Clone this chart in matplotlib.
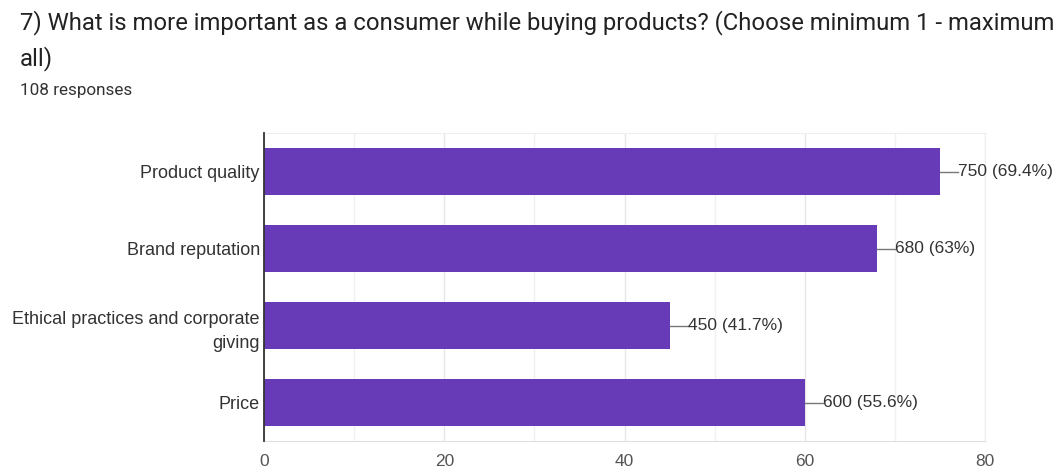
import matplotlib
matplotlib.use("Agg")
import matplotlib.pyplot as plt
from matplotlib.ticker import MultipleLocator

categories = ["Product quality", "Brand reputation",
              "Ethical practices and corporate\ngiving", "Price"]
values = [75, 68, 45, 60]
value_labels = ["750 (69.4%)", "680 (63%)", "450 (41.7%)", "600 (55.6%)"]
xticks = [0, 20, 40, 60, 80]

title_lines = ["7) What is more important as a consumer while buying products? (Choose minimum 1 - maximum",
               "all)"]
subtitle = "108 responses"

plt.rcParams['font.family'] = ['Roboto', 'DejaVu Sans']
label_font = ['Liberation Sans', 'DejaVu Sans']

W, H = 1064, 471
fig = plt.figure(figsize=(W / 100, H / 100), dpi=100)
fig.patch.set_facecolor("white")

left, right, top, bottom = 264, 985, 133, 441
ax = fig.add_axes([left / W, 1 - bottom / H, (right - left) / W, (bottom - top) / H])

bar_color = "#673AB7"
ypos = list(range(len(categories)))
ax.barh(ypos, values, height=0.61, color=bar_color, zorder=3)
ax.set_ylim(len(categories) - 0.5, -0.5)
ax.set_xlim(0, 80)
ax.set_xticks(xticks)
ax.xaxis.set_minor_locator(MultipleLocator(10))
ax.grid(axis="x", which="major", color="#e6e6e6", linewidth=1, zorder=0)
ax.grid(axis="x", which="minor", color="#f0f0f0", linewidth=1, zorder=0)
ax.set_yticks(ypos)
ax.set_yticklabels(categories, fontsize=13, color="#333333", linespacing=1.6,
                   family=label_font)
ax.tick_params(axis="y", length=0, pad=3)
ax.tick_params(axis="x", which="both", length=0, pad=9, labelsize=12.5, labelcolor="#555555")
for t in ax.get_xticklabels():
    t.set_family(label_font)

for s in ["top", "right"]:
    ax.spines[s].set_color("#eeeeee")
ax.spines["bottom"].set_color("#e0e0e0")
ax.spines["left"].set_color("#333333")
ax.spines["left"].set_linewidth(1.3)
ax.spines["left"].set_zorder(4)

for y, v, lab in zip(ypos, values, value_labels):
    ax.plot([v, v + 2.0], [y, y], color="#777777", linewidth=1, zorder=3, clip_on=False)
    ax.text(v + 2.05, y, lab, va="center", ha="left", fontsize=12.5, color="#333333",
            family=label_font)

fig.text(20 / W, 1 - 23 / H, title_lines[0], fontsize=17.2, color="#222222",
         va="center", ha="left")
fig.text(20 / W, 1 - 59 / H, title_lines[1], fontsize=17.2, color="#222222",
         va="center", ha="left")
fig.text(20 / W, 1 - 90 / H, subtitle, fontsize=12.3, color="#333333", va="center", ha="left")

fig.savefig("out.png", dpi=100)
